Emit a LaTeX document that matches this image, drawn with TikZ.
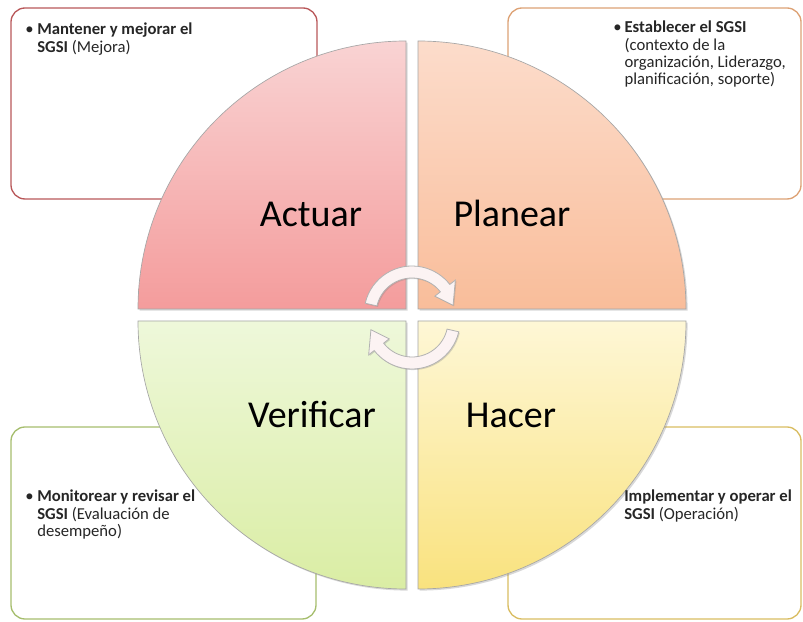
\documentclass[tikz,border=0pt]{standalone}
\usepackage{fontspec}
\setmainfont{Carlito}
\usetikzlibrary{shadows}

\definecolor{actTop}{HTML}{F9D3D3}
\definecolor{actBot}{HTML}{F49C9C}
\definecolor{plaTop}{HTML}{FCDCCB}
\definecolor{plaBot}{HTML}{F9BD9A}
\definecolor{verTop}{HTML}{EEF8DA}
\definecolor{verBot}{HTML}{DAEDA4}
\definecolor{hacTop}{HTML}{FEF7D6}
\definecolor{hacBot}{HTML}{F9E27E}
\definecolor{boxAct}{HTML}{B9585A}
\definecolor{boxPla}{HTML}{DDA275}
\definecolor{boxVer}{HTML}{A6BE6E}
\definecolor{boxHac}{HTML}{D9BD62}
\definecolor{arrowFill}{HTML}{FCF3F3}

\tikzset{
    quarter/.style = {draw = gray!70, line width = .5pt,
        drop shadow = {shadow xshift = 1.2pt, shadow yshift = -1.2pt, opacity = .3, fill = gray}},
    infobox/.style = {line width = 1pt, rounded corners = 10.5pt, fill = white},
    cyclearrow/.style = {draw = gray!60, fill = arrowFill, line width = .6pt,
        drop shadow = {shadow xshift = .8pt, shadow yshift = -.8pt, opacity = .3, fill = gray}},
    phase/.style = {font = \fontsize{28.5}{34}\selectfont, anchor = base, inner sep = 0pt},
    boxtext/.style = {font = \fontsize{12.5}{12.75}\selectfont, anchor = base west, inner sep = 0pt, text = black!85}
}

\begin{document}
\begin{tikzpicture}[x = .75pt, y = .75pt]
    \useasboundingbox (0,0) rectangle (803,621);
    \clip (0,0) rectangle (803,621);
    \fill [white] (0,0) rectangle (803,621);

    % Draw the text boxes behind the wheel:
    \draw [infobox, draw = boxAct] (11,422) rectangle (317,613);
    \draw [infobox, draw = boxPla] (508,422) rectangle (801,613);
    \draw [infobox, draw = boxVer] (11,2) rectangle (316,194);
    \draw [infobox, draw = boxHac] (508,2) rectangle (801,194);

    % Draw the four quarters of the wheel:
    \foreach \qx/\qy/\ang/\topc/\botc in {406/312/90/actTop/actBot, 418/312/0/plaTop/plaBot,
                                         406/300/180/verTop/verBot, 418/300/270/hacTop/hacBot}
        \draw [quarter, top color = \topc, bottom color = \botc] (\qx,\qy) -- +(\ang:268)
            arc [start angle = \ang, delta angle = 90, radius = 268] -- cycle;

    % Draw the phase names:
    \node [phase] (Actuar)    at (311,394) {Actuar};
    \node [phase] (Planear)   at (512,394) {Planear};
    \node [phase] (Verificar) at (312,193) {Verificar};
    \node [phase] (Hacer)     at (511,193) {Hacer};

    % Draw the cycle arrows:
    \foreach \cy/\rot in {307/0, 300/180}
        \draw [cyclearrow, shift = {(412,\cy)}, rotate = \rot] (167:48)
            arc [start angle = 167, end angle = 38, radius = 48] -- (38:55) -- (12:42) -- (38:29) -- (38:36)
            arc [start angle = 38, end angle = 167, radius = 36] -- cycle;

    % Draw the box texts:
    \node [boxtext] (Mejora) at (25,586)
        {\begin{tabular}[t]{@{}p{9pt}@{}l@{}}\textbullet & \textbf{Mantener y mejorar el}\\ & \textbf{SGSI} (Mejora)\end{tabular}};
    \node [boxtext] (Establecer) at (613,588)
        {\begin{tabular}[t]{@{}p{8.5pt}@{}l@{}}\textbullet & \textbf{Establecer el SGSI}\\ & (contexto de la\\ & organización, Liderazgo,\\ & planificación, soporte)\end{tabular}};
    \node [boxtext] (Monitorear) at (25,119)
        {\begin{tabular}[t]{@{}p{9pt}@{}l@{}}\textbullet & \textbf{Monitorear y revisar el}\\ & \textbf{SGSI} (Evaluación de\\ & desempeño)\end{tabular}};
    \node [boxtext] (Implementar) at (624,119)
        {\begin{tabular}[t]{@{}l@{}}\textbf{Implementar y operar el}\\ \textbf{SGSI} (Operación)\end{tabular}};
\end{tikzpicture}
\end{document}
